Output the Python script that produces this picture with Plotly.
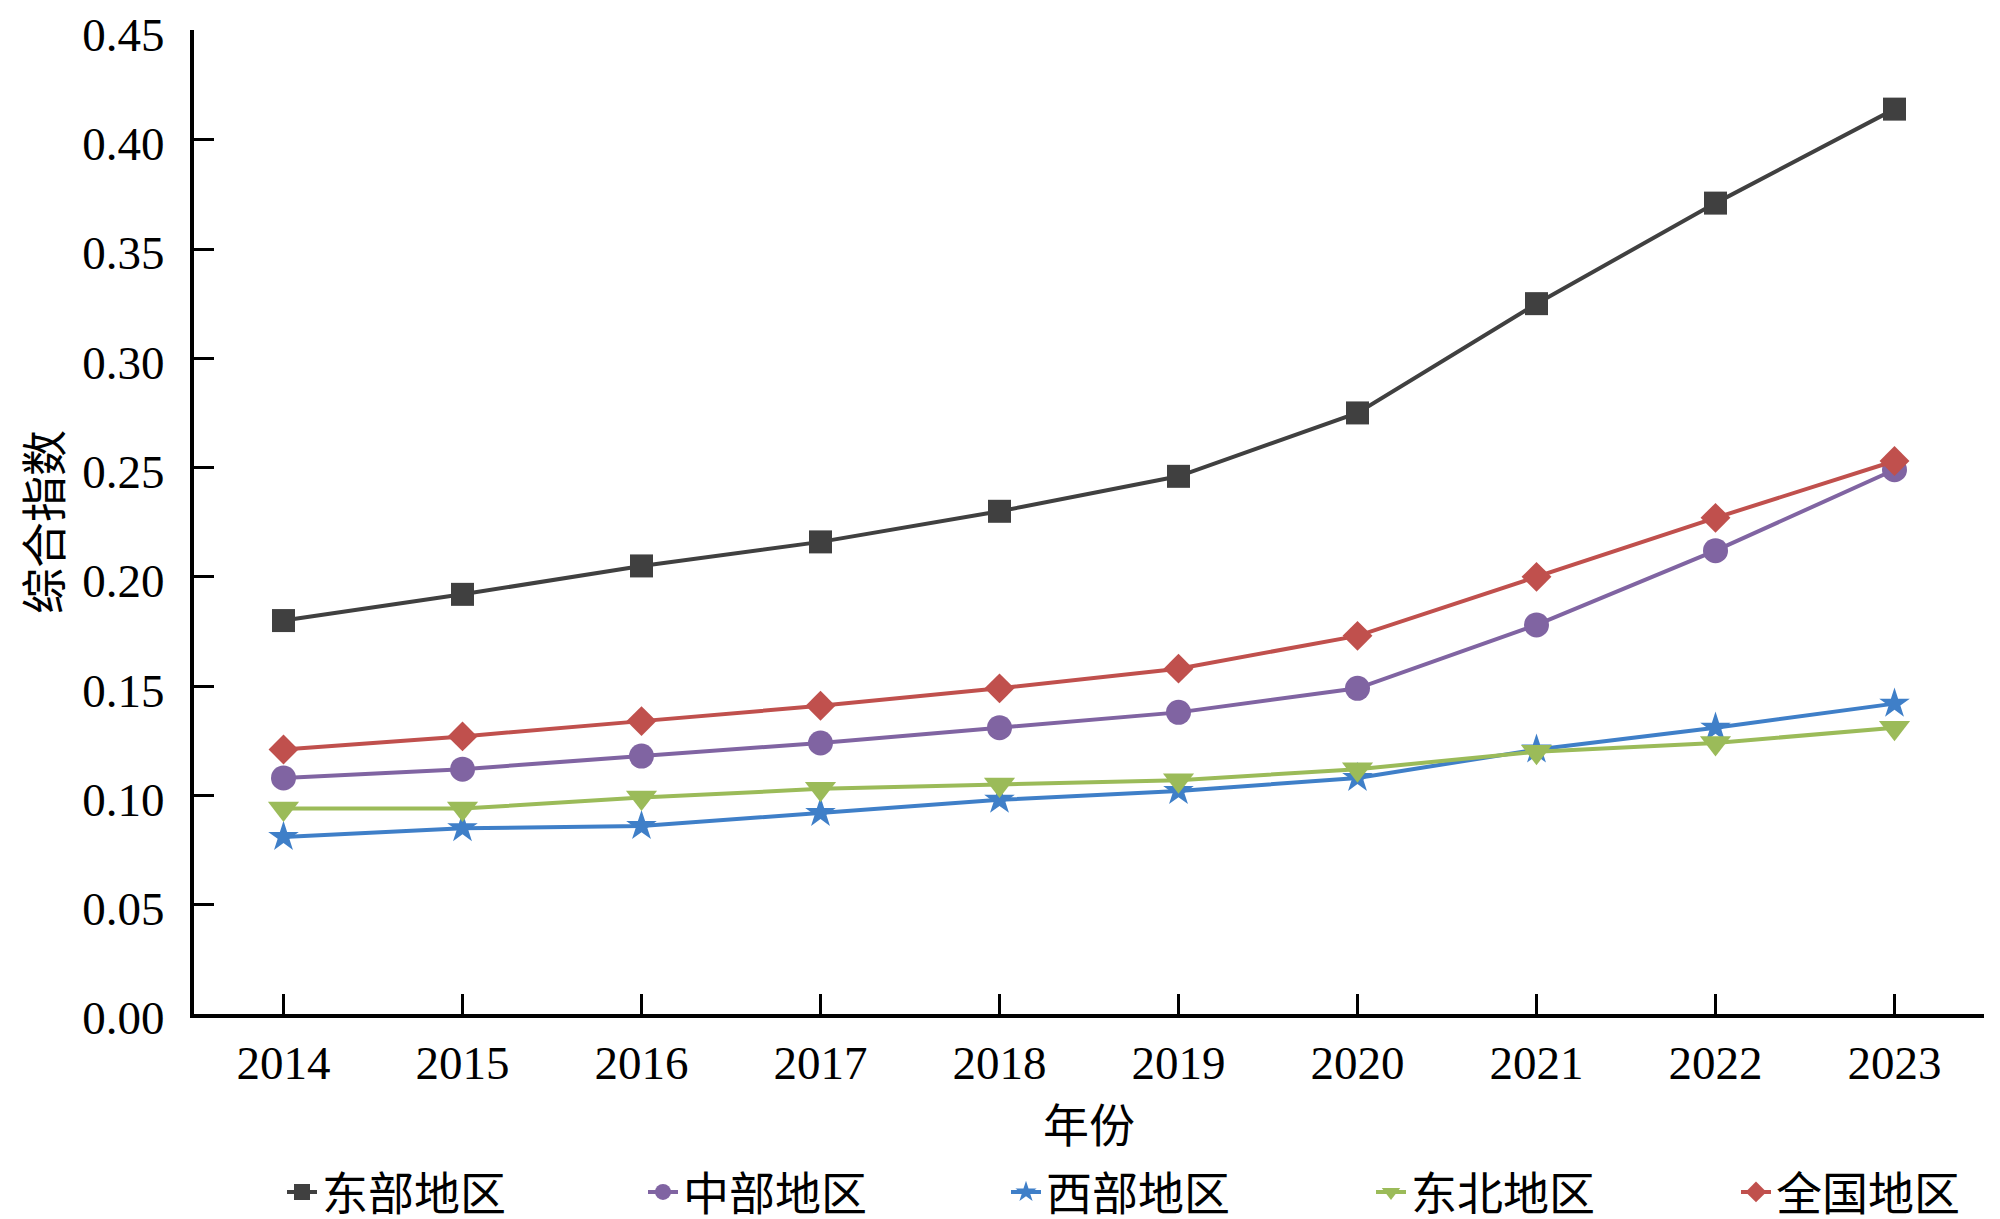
import plotly.graph_objects as go

years = [2014, 2015, 2016, 2017, 2018, 2019, 2020, 2021, 2022, 2023]
series_names = ["东部地区", "中部地区", "西部地区", "东北地区", "全国地区"]
east = [0.180, 0.192, 0.205, 0.216, 0.230, 0.246, 0.275, 0.325, 0.371, 0.414]
central = [0.108, 0.112, 0.118, 0.124, 0.131, 0.138, 0.149, 0.178, 0.212, 0.249]
west = [0.081, 0.085, 0.086, 0.092, 0.098, 0.102, 0.108, 0.121, 0.131, 0.142]
northeast = [0.094, 0.094, 0.099, 0.103, 0.105, 0.107, 0.112, 0.120, 0.124, 0.131]
national = [0.121, 0.127, 0.134, 0.141, 0.149, 0.158, 0.173, 0.200, 0.227, 0.253]
y_ticks = [0.00, 0.05, 0.10, 0.15, 0.20, 0.25, 0.30, 0.35, 0.40, 0.45]

values = [east, central, west, northeast, national]
colors = ["#404040", "#8064A2", "#3F7FC8", "#9BBB59", "#C0504D"]
symbols = ["square", "circle", "star", "triangle-down", "diamond"]
sizes = [23, 25, 23, 27, 23]
legend_ids = ["legend", "legend2", "legend3", "legend4", "legend5"]
legend_x = [0.137, 0.3175, 0.499, 0.6815, 0.864]

SERIF = "Liberation Serif, Times New Roman, serif"
CJK = "Noto Sans CJK SC, sans-serif"

fig = go.Figure()
for name, vals, c, s, sz, lg in zip(series_names, values, colors, symbols, sizes, legend_ids):
    fig.add_trace(go.Scatter(
        x=years, y=vals, name=name, mode="lines+markers",
        line=dict(color=c, width=4),
        marker=dict(symbol=s, size=sz, color=c, line=dict(width=0)),
        legend=lg,
    ))

legend_common = dict(
    orientation="h", xref="container", yref="container",
    y=1 - 1184 / 1219, xanchor="left", yanchor="middle",
    font=dict(family=CJK, size=46, color="black"),
    itemsizing="trace", bgcolor="rgba(0,0,0,0)",
)
legend_layout = {lg: dict(x=lx, **legend_common) for lg, lx in zip(legend_ids, legend_x)}

fig.update_layout(
    width=2000, height=1219,
    margin=dict(l=186, r=24, t=22, b=213, autoexpand=False),
    paper_bgcolor="white", plot_bgcolor="white",
    showlegend=True,
    **legend_layout,
    xaxis=dict(
        range=[2013.5, 2023.5], tickmode="array", tickvals=years,
        ticktext=[str(y) for y in years],
        ticks="inside", ticklen=20, tickwidth=3, tickcolor="black",
        showline=True, linewidth=4, linecolor="black",
        showgrid=False, zeroline=False,
        tickfont=dict(family=SERIF, size=47, color="black"),
        ticklabelstandoff=5,
        title=dict(text="年份", font=dict(family=CJK, size=46, color="black"), standoff=36),
    ),
    yaxis=dict(
        range=[0, 0.4502], tickmode="array", tickvals=y_ticks,
        ticktext=[f"{v:.2f}" for v in y_ticks],
        ticks="inside", ticklen=20, tickwidth=3, tickcolor="black",
        showline=True, linewidth=4, linecolor="black",
        showgrid=False, zeroline=False,
        tickfont=dict(family=SERIF, size=47, color="black"),
        ticklabelstandoff=16, ticklabelshift=4, ticklabeloverflow="allow",
        title=dict(text="综合指数", font=dict(family=CJK, size=46, color="black"), standoff=18),
    ),
)

fig.write_html("out.html")
